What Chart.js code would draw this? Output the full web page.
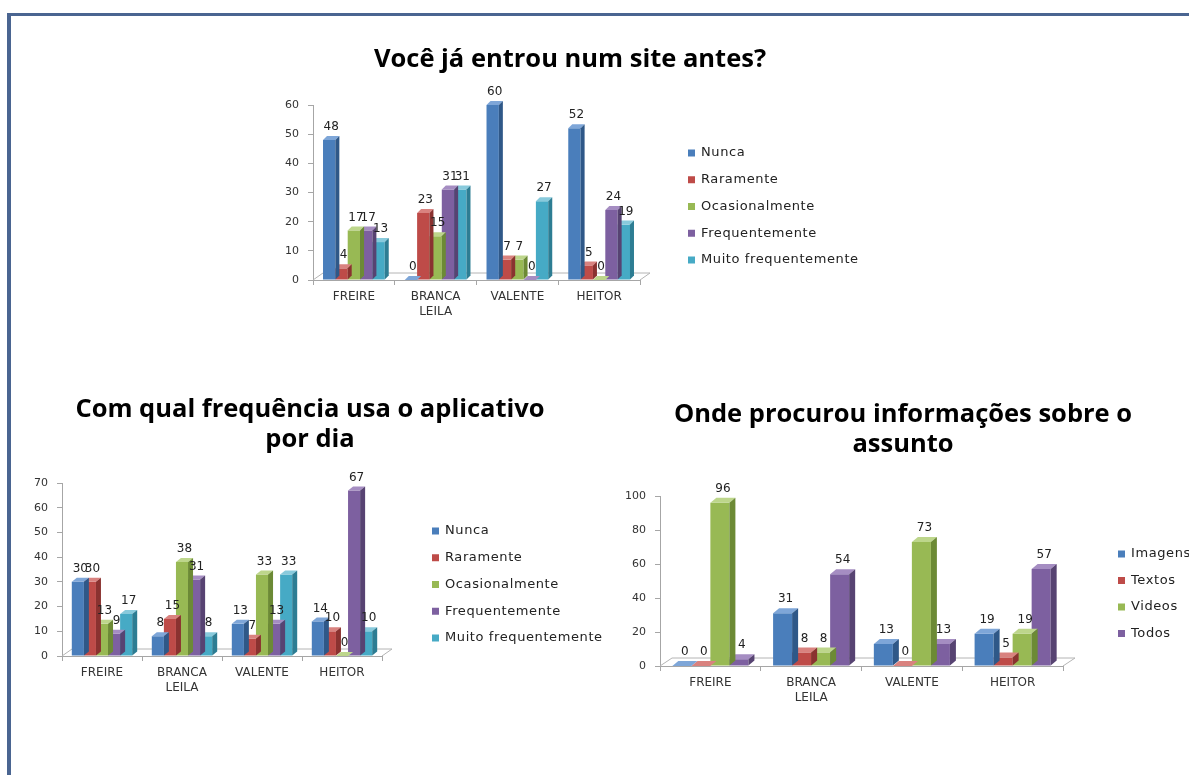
<!DOCTYPE html>
<html>
<head>
<meta charset="utf-8">
<script src="https://cdn.jsdelivr.net/npm/chart.js@4.4.1/dist/chart.umd.min.js"></script>
<style>
  html, body { margin: 0; padding: 0; background: #fff; }
  body { width: 1189px; height: 775px; position: relative; overflow: hidden; }
  .frame { position: absolute; left: 7px; top: 13px; right: -10px; bottom: -10px;
           border-left: 4px solid #4a6591; border-top: 3px solid #4a6591; }
  canvas { position: absolute; }
  #siteChart { left: 250px; top: 30px; }
  #appChart { left: 0px; top: 380px; }
  #infoChart { left: 618px; top: 385px; }
</style>
</head>
<body>
<div class="frame"></div>
<canvas id="siteChart" width="640" height="310"></canvas>
<canvas id="appChart" width="620" height="336"></canvas>
<canvas id="infoChart" width="571" height="341"></canvas>
<script>
// categorias (escolas)
const escolas = ["FREIRE", ["BRANCA", "LEILA"], "VALENTE", "HEITOR"];
const frequencias = ["Nunca", "Raramente", "Ocasionalmente", "Frequentemente", "Muito frequentemente"];
const fontes = ["Imagens", "Textos", "Videos", "Todos"];

// Você já entrou num site antes?
const siteNunca = [48, 0, 60, 52];
const siteRaramente = [4, 23, 7, 5];
const siteOcasional = [17, 15, 7, 0];
const siteFrequente = [17, 31, 0, 24];
const siteMuito = [13, 31, 27, 19];

// Com qual frequência usa o aplicativo por dia
const appNunca = [30, 8, 13, 14];
const appRaramente = [30, 15, 7, 10];
const appOcasional = [13, 38, 33, 0];
const appFrequente = [9, 31, 13, 67];
const appMuito = [17, 8, 33, 10];

// Onde procurou informações sobre o assunto
const infoImagens = [0, 31, 13, 19];
const infoTextos = [0, 8, 0, 5];
const infoVideos = [96, 8, 73, 19];
const infoTodos = [4, 54, 13, 57];

// front / top / side colours
const palette = [
    ["#4a7ebb", "#7ea6d8", "#2f5888"],
    ["#be4b48", "#d9827f", "#8a3230"],
    ["#98b954", "#bdd68b", "#6c8a35"],
    ["#7d60a0", "#a58dc2", "#574372"],
    ["#46aac5", "#88cadc", "#2d7d93"]
];

const bar3d = {
    id: "bar3d",
    beforeDatasetsDraw(chart, args, opts) {
        const ctx = chart.ctx;
        const a = chart.chartArea;
        ctx.save();
        ctx.strokeStyle = "#b4b4b4";
        ctx.lineWidth = 1;
        ctx.beginPath();
        ctx.moveTo(a.left, a.bottom);
        ctx.lineTo(a.left + opts.floorX, a.bottom - opts.floorY);
        ctx.lineTo(a.right + opts.floorX, a.bottom - opts.floorY);
        ctx.lineTo(a.right, a.bottom);
        ctx.stroke();
        ctx.restore();
    },
    afterDatasetDraw(chart, args, opts) {
        const ctx = chart.ctx;
        const ds = chart.data.datasets[args.index];
        const dx = opts.dx, dy = opts.dy;
        ctx.save();
        args.meta.data.forEach(bar => {
            const p = bar.getProps(["x", "y", "base", "width"], true);
            const l = p.x - p.width / 2, r = p.x + p.width / 2;
            ctx.fillStyle = ds.topColor;
            ctx.beginPath();
            ctx.moveTo(l, p.y);
            ctx.lineTo(l + dx, p.y - dy);
            ctx.lineTo(r + dx, p.y - dy);
            ctx.lineTo(r, p.y);
            ctx.closePath();
            ctx.fill();
            ctx.fillStyle = ds.sideColor;
            ctx.beginPath();
            ctx.moveTo(r, p.y);
            ctx.lineTo(r + dx, p.y - dy);
            ctx.lineTo(r + dx, p.base - dy);
            ctx.lineTo(r, p.base);
            ctx.closePath();
            ctx.fill();
        });
        ctx.restore();
    },
    afterDatasetsDraw(chart, args, opts) {
        const ctx = chart.ctx;
        ctx.save();
        ctx.font = "12px 'DejaVu Sans'";
        ctx.fillStyle = "#222";
        ctx.textAlign = "center";
        ctx.textBaseline = "bottom";
        chart.data.datasets.forEach((ds, i) => {
            chart.getDatasetMeta(i).data.forEach((bar, j) => {
                ctx.fillText(ds.data[j], bar.x + opts.dx / 2, bar.y - opts.dy - 3);
            });
        });

        // legend
        const a = chart.chartArea;
        const lx = a.right + opts.legendX;
        ctx.font = "13px 'DejaVu Sans'";
        ctx.letterSpacing = "0.6px";
        ctx.textAlign = "left";
        ctx.textBaseline = "middle";
        chart.data.datasets.forEach((ds, i) => {
            const ly = a.top + opts.legendY + i * opts.legendGap;
            ctx.fillStyle = ds.backgroundColor;
            ctx.fillRect(lx, ly - 3.5, 7, 7);
            ctx.fillStyle = "#222";
            ctx.fillText(ds.label, lx + 13, ly);
        });
        ctx.letterSpacing = "0px";

        // title
        ctx.font = "bold " + opts.titleSize + "px 'Open Sans'";
        ctx.fillStyle = "#000";
        ctx.textAlign = "center";
        ctx.textBaseline = "middle";
        opts.title.forEach((line, i) => {
            ctx.fillText(line, opts.titleX, opts.titleY + i * 30);
        });
        ctx.restore();
    }
};

function makeChart(id, names, series, cfg) {
    const datasets = series.map((values, i) => ({
        label: names[i],
        data: values,
        backgroundColor: palette[i][0],
        topColor: palette[i][1],
        sideColor: palette[i][2],
        borderWidth: 0,
        barPercentage: 1,
        categoryPercentage: 0.755
    }));

    return new Chart(document.getElementById(id), {
        type: "bar",
        data: { labels: escolas, datasets: datasets },
        plugins: [bar3d],
        options: {
            responsive: false,
            animation: false,
            layout: { padding: { left: 0, right: cfg.padRight, top: cfg.padTop, bottom: 0 } },
            plugins: {
                legend: { display: false },
                tooltip: { enabled: false },
                bar3d: cfg.depth
            },
            scales: {
                x: {
                    grid: { display: true, drawOnChartArea: false, offset: true, tickLength: 5, color: "#a6a6a6" },
                    border: { color: "#a6a6a6" },
                    ticks: { color: "#333", font: { family: "DejaVu Sans", size: 12 }, padding: 5, autoSkip: false, maxRotation: 0 },
                    afterFit: s => { s.height = 60; }
                },
                y: {
                    min: 0,
                    max: cfg.max,
                    grid: { display: true, drawOnChartArea: false, tickLength: 5, color: "#a6a6a6" },
                    border: { color: "#a6a6a6" },
                    ticks: { stepSize: cfg.step, color: "#333", font: { family: "DejaVu Sans", size: 11 }, padding: 9 },
                    afterFit: s => { s.width = cfg.yWidth; }
                }
            }
        }
    });
}

makeChart("siteChart", frequencias,
    [siteNunca, siteRaramente, siteOcasional, siteFrequente, siteMuito],
    { padRight: 250, padTop: 75, yWidth: 63, max: 60, step: 10,
      depth: { dx: 4, dy: 4, floorX: 10, floorY: 7, legendX: 48, legendY: 48, legendGap: 26.75,
               title: ["Você já entrou num site antes?"], titleSize: 25.5, titleX: 320, titleY: 30 } });

makeChart("appChart", frequencias,
    [appNunca, appRaramente, appOcasional, appFrequente, appMuito],
    { padRight: 238, padTop: 103, yWidth: 62, max: 70, step: 10,
      depth: { dx: 5, dy: 4, floorX: 10, floorY: 7, legendX: 50, legendY: 48, legendGap: 26.75,
               title: ["Com qual frequência usa o aplicativo", "por dia"], titleSize: 25.5, titleX: 310, titleY: 30 } });

makeChart("infoChart", fontes,
    [infoImagens, infoTextos, infoVideos, infoTodos],
    { padRight: 126, padTop: 111, yWidth: 42, max: 100, step: 20,
      depth: { dx: 6, dy: 5, floorX: 12, floorY: 8, legendX: 55, legendY: 58, legendGap: 26.5,
               title: ["Onde procurou informações sobre o", "assunto"], titleSize: 25.5, titleX: 285, titleY: 30 } });
</script>
</body>
</html>
